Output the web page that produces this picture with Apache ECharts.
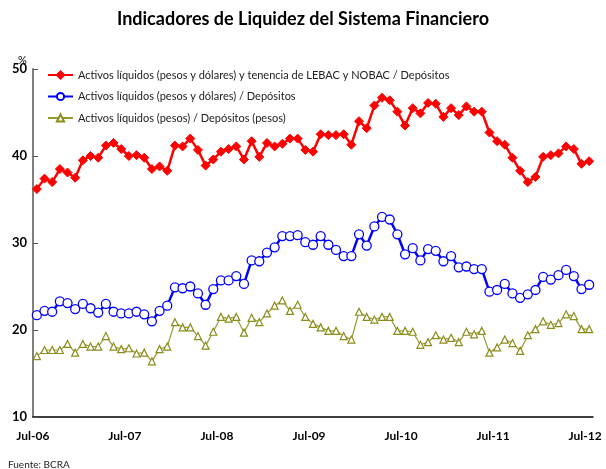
<!DOCTYPE html>
<html>
<head>
    <meta charset="UTF-8">
    <title>Indicadores de Liquidez del Sistema Financiero</title>
    <script src="https://cdn.jsdelivr.net/npm/echarts@6/dist/echarts.min.js"></script>
    <style>
        body { margin: 0; padding: 0; background: #fff; }
        #chart { width: 606px; height: 469px; }
    </style>
</head>
<body>
    <div id="chart"></div>
    <script>
        // meses jul-06 ... jul-12 (73 observaciones mensuales)
        var mesesAbrev = ['Jul', 'Ago', 'Sep', 'Oct', 'Nov', 'Dic', 'Ene', 'Feb', 'Mar', 'Abr', 'May', 'Jun'];
        var categorias = [];
        for (var k = 0; k < 73; k++) {
            var anio = 6 + Math.floor((k + 6) / 12);
            categorias.push(mesesAbrev[k % 12] + '-' + (anio < 10 ? '0' + anio : anio));
        }

        var nombres = [
            'Activos líquidos (pesos y dólares) y tenencia de LEBAC y NOBAC / Depósitos',
            'Activos líquidos (pesos y dólares) / Depósitos',
            'Activos líquidos (pesos) / Depósitos (pesos)'
        ];

        var conLebac = [
            36.2, 37.4, 37.0, 38.5, 38.1, 37.5, 39.5, 40.0, 39.8, 41.2, 41.5, 40.8,
            40.0, 40.1, 39.8, 38.5, 38.8, 38.3, 41.2, 41.1, 42.0, 40.7, 38.9, 39.6,
            40.5, 40.8, 41.1, 39.6, 41.7, 39.9, 41.5, 41.1, 41.4, 42.0, 42.0, 40.7,
            40.5, 42.5, 42.4, 42.4, 42.5, 41.3, 44.0, 43.2, 45.8, 46.7, 46.4, 45.1,
            43.5, 45.5, 44.9, 46.1, 46.0, 44.5, 45.5, 44.7, 45.7, 45.1, 45.1, 42.7,
            41.7, 41.3, 39.8, 38.3, 37.0, 37.6, 39.9, 40.1, 40.3, 41.1, 40.8, 39.1,
            39.4
        ];

        var pesosDolares = [
            21.7, 22.2, 22.1, 23.3, 23.1, 22.4, 23.0, 22.5, 22.0, 23.0, 22.1, 21.9,
            21.9, 22.1, 21.8, 21.0, 22.2, 22.8, 24.9, 24.8, 25.0, 24.2, 22.9, 24.7,
            25.7, 25.7, 26.2, 25.3, 28.0, 27.9, 28.9, 29.5, 30.8, 30.8, 30.9, 30.1,
            29.8, 30.8, 29.8, 29.2, 28.5, 28.5, 31.0, 29.7, 31.9, 33.0, 32.7, 31.0,
            28.7, 29.4, 28.0, 29.3, 29.1, 27.9, 28.5, 27.2, 27.3, 27.0, 27.0, 24.4,
            24.6, 25.3, 24.2, 23.7, 24.1, 24.6, 26.1, 25.8, 26.3, 26.9, 26.2, 24.7,
            25.2
        ];

        var soloPesos = [
            17.0, 17.7, 17.7, 17.7, 18.4, 17.4, 18.4, 18.1, 18.1, 19.3, 18.1, 17.8,
            17.9, 17.3, 17.4, 16.4, 17.8, 18.1, 20.9, 20.3, 20.3, 19.3, 18.2, 19.8,
            21.5, 21.3, 21.5, 19.7, 21.4, 20.9, 21.9, 22.8, 23.4, 22.2, 22.9, 21.5,
            20.7, 20.3, 19.9, 19.9, 19.3, 18.9, 22.1, 21.5, 21.2, 21.5, 21.5, 19.9,
            19.9, 19.8, 18.3, 18.6, 19.4, 18.9, 19.1, 18.6, 19.8, 19.5, 19.9, 17.4,
            18.0, 18.9, 18.5, 17.6, 19.4, 20.1, 21.0, 20.6, 20.8, 21.8, 21.6, 20.1,
            20.1
        ];

        var fuente = 'Lato, "DejaVu Sans", sans-serif';

        var chart = echarts.init(document.getElementById('chart'), null, { renderer: 'canvas' });

        var option = {
            animation: false,
            backgroundColor: '#ffffff',
            title: [
                {
                    text: 'Indicadores de Liquidez del Sistema Financiero',
                    left: 'center',
                    top: 5,
                    textStyle: { fontFamily: fuente, fontSize: 18, fontWeight: 'bold', color: '#000' }
                },
                {
                    text: '%',
                    left: 13,
                    top: 50,
                    textStyle: { fontFamily: fuente, fontSize: 11, fontWeight: 'normal', color: '#000' }
                },
                {
                    text: 'Fuente: BCRA',
                    left: 3,
                    top: 455,
                    textStyle: { fontFamily: fuente, fontSize: 10, fontWeight: 'normal', color: '#222' }
                }
            ],
            legend: {
                orient: 'vertical',
                left: 42,
                top: 63,
                itemWidth: 25,
                itemHeight: 9,
                itemGap: 7.5,
                textStyle: { fontFamily: fuente, fontSize: 11, color: '#222', lineHeight: 14 },
                data: nombres
            },
            grid: { left: 33, right: 13, top: 69, bottom: 52 },
            xAxis: {
                type: 'category',
                data: categorias,
                boundaryGap: true,
                axisLine: { lineStyle: { color: '#000', width: 1.5 } },
                axisTick: { interval: 11, inside: true, length: 5, lineStyle: { color: '#555' } },
                axisLabel: {
                    interval: 11,
                    margin: 13,
                    padding: [0, 8, 0, 0],
                    fontFamily: fuente,
                    fontSize: 12,
                    fontWeight: 'bold',
                    color: '#000'
                },
                splitLine: { show: false }
            },
            yAxis: {
                type: 'value',
                min: 10,
                max: 50,
                interval: 10,
                axisLine: { show: true, lineStyle: { color: '#808080', width: 2 } },
                axisTick: { show: true, inside: true, length: 5, lineStyle: { color: '#555' } },
                axisLabel: { margin: 6, fontFamily: fuente, fontSize: 13, fontWeight: 'bold', color: '#000' },
                splitLine: { show: false }
            },
            series: [
                {
                    name: nombres[0],
                    type: 'line',
                    data: conLebac,
                    symbol: 'diamond',
                    symbolSize: 9,
                    showAllSymbol: true,
                    lineStyle: { color: '#ff0000', width: 2.5 },
                    itemStyle: { color: '#ff0000', borderColor: '#ff0000', borderWidth: 1 },
                    z: 4
                },
                {
                    name: nombres[1],
                    type: 'line',
                    data: pesosDolares,
                    symbol: 'circle',
                    symbolSize: 9,
                    showAllSymbol: true,
                    lineStyle: { color: '#0000ff', width: 2.5 },
                    itemStyle: { color: '#ffffff', borderColor: '#0000ff', borderWidth: 1.3 },
                    z: 3
                },
                {
                    name: nombres[2],
                    type: 'line',
                    data: soloPesos,
                    symbol: 'triangle',
                    symbolSize: 7,
                    showAllSymbol: true,
                    lineStyle: { color: '#999933', width: 1.2 },
                    itemStyle: { color: '#ffffff', borderColor: '#8c8c1a', borderWidth: 1.2 },
                    z: 2
                }
            ]
        };

        chart.setOption(option);
    </script>
</body>
</html>
